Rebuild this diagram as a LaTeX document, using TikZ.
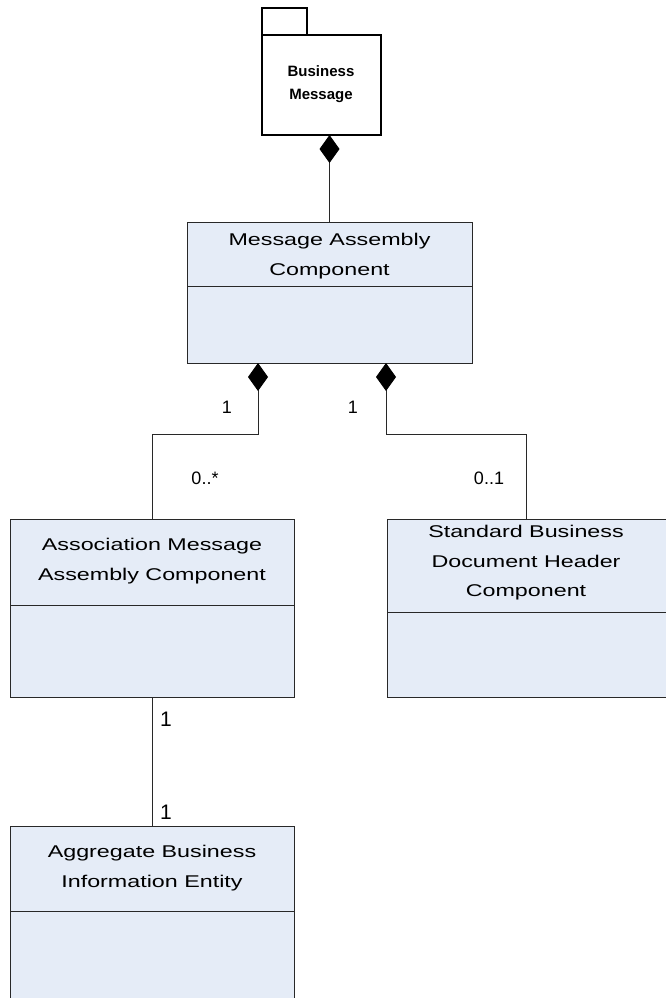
\documentclass[tikz,border=0pt]{standalone}
\usepackage{fontspec}
\setmainfont{Liberation Sans}
\newfontfamily\classfont[FakeStretch=1.37]{Liberation Sans}
\usetikzlibrary{arrows.meta,calc}
\definecolor{umlfill}{RGB}{229,236,247}
\definecolor{umlline}{RGB}{40,40,40}
\tikzset{
  classbox/.style={draw=umlline, fill=umlfill, line width=0.9pt, inner sep=0pt,
    outer sep=0pt, anchor=north west},
  pkgbox/.style={draw=black, fill=white, line width=1.2pt, inner sep=0pt,
    outer sep=0pt, anchor=north west},
  classtitle/.style={align=center, inner sep=0pt,
    font=\classfont\fontsize{17}{29.5}\selectfont},
  pkgtitle/.style={align=center, inner sep=0pt,
    font=\bfseries\fontsize{15}{23}\selectfont},
  mult/.style={inner sep=0pt, font=\fontsize{18}{20}\selectfont},
  multbig/.style={inner sep=0pt, font=\fontsize{21}{23}\selectfont},
  divider/.style={draw=umlline, line width=0.9pt},
  conn/.style={draw=umlline, line width=0.9pt},
  comp/.style={conn, {Diamond[length=28pt,width=20pt,fill=black,color=black]}-}
}
\begin{document}
\begin{tikzpicture}[x=1pt,y=-1pt]
  \useasboundingbox (0,0) rectangle (665,998);

  % package: Business Message
  \node[pkgbox, minimum width=45, minimum height=27] (pkgtab) at (262,8) {};
  \node[pkgbox, minimum width=119, minimum height=100] (pkg) at (262,35) {};
  \node[pkgtitle] (pkgT) at (321,84) {Business\\Message};

  % classes
  \node[classbox, minimum width=285, minimum height=141] (mac) at (187,222) {};
  \node[classtitle] (macT) at (329.5,256) {Message Assembly\\Component};
  \draw[divider] (187,286) -- (472,286);

  \node[classbox, minimum width=284, minimum height=178] (amac) at (10,519) {};
  \node[classtitle] (amacT) at (152,561) {Association Message\\Assembly Component};
  \draw[divider] (10,605) -- (294,605);

  \node[classbox, minimum width=279, minimum height=178] (sbdh) at (387,519) {};
  \node[classtitle] (sbdhT) at (526,563) {Standard Business\\Document Header\\Component};
  \draw[divider] (387,612) -- (666,612);

  \node[classbox, minimum width=284, minimum height=200] (abie) at (10,826) {};
  \node[classtitle] (abieT) at (152,868) {Aggregate Business\\Information Entity};
  \draw[divider] (10,911) -- (294,911);

  % attachment points on the assembly component
  \coordinate (macL) at (258,363);
  \coordinate (macR) at (386,363);

  % connectors
  \draw[comp] (pkg.south -| mac.north) -- (mac.north);
  \draw[comp] (macL) -- (macL |- 0,434) -| (amac.north);
  \draw[comp] (macR) -- (macR |- 0,434) -| (sbdh.north);
  \draw[conn] (amac.south) -- (abie.north);

  % multiplicities
  \node[mult] (m1) at (227,407) {1};
  \node[mult] (m2) at (353,407) {1};
  \node[mult] (m3) at (205,478) {0..*};
  \node[mult] (m4) at (489,478) {0..1};
  \node[multbig] (m5) at (166,719) {1};
  \node[multbig] (m6) at (166,812) {1};
\end{tikzpicture}
\end{document}
